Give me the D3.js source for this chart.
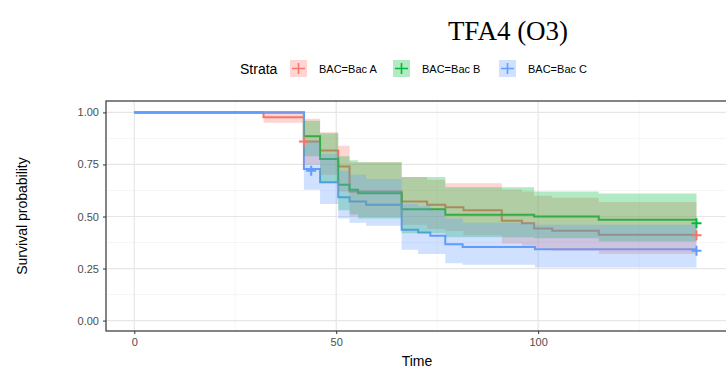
<!DOCTYPE html>
<html>
<head>
<meta charset="utf-8">
<script src="https://cdn.jsdelivr.net/npm/d3@7"></script>
<style>
  body { margin: 0; background: #fff; }
  text { font-family: "Liberation Sans", Arial, sans-serif; }
</style>
</head>
<body>
<svg id="chart" width="726" height="369"></svg>
<script>
// Kaplan-Meier steps
const strata = ["BAC=Bac A", "BAC=Bac B", "BAC=Bac C"];
const colors = ["#F8766D", "#00BA38", "#619CFF"];
const endTime = 139.2;

const timesA = [0, 32, 42, 46, 50.5, 53.3, 66.2, 72.5, 77, 81.5, 91, 96, 99, 103.5, 115];
const survA  = [1, 0.977, 0.86, 0.817, 0.74, 0.62, 0.572, 0.556, 0.545, 0.53, 0.48, 0.468, 0.442, 0.431, 0.412];
const lowA   = [1, 0.95, 0.75, 0.70, 0.62, 0.50, 0.46, 0.44, 0.43, 0.41, 0.37, 0.36, 0.345, 0.335, 0.32];
const upA    = [1, 1.0, 0.97, 0.905, 0.84, 0.76, 0.69, 0.676, 0.66, 0.66, 0.63, 0.62, 0.60, 0.59, 0.57];

const timesB = [0, 42, 46, 50.5, 53.3, 55.4, 66.2, 77, 99, 115];
const survB  = [1, 0.885, 0.776, 0.652, 0.628, 0.612, 0.535, 0.508, 0.50, 0.484];
const lowB   = [1, 0.79, 0.66, 0.53, 0.51, 0.49, 0.42, 0.40, 0.395, 0.38];
const upB    = [1, 0.96, 0.90, 0.79, 0.77, 0.76, 0.69, 0.64, 0.62, 0.61];

const timesC = [0, 42, 46, 50.5, 53.3, 57.4, 66.2, 70.3, 73.3, 77, 81.3, 99.2];
const survC  = [1, 0.728, 0.664, 0.592, 0.572, 0.556, 0.436, 0.423, 0.407, 0.367, 0.353, 0.343];
const lowC   = [1, 0.628, 0.56, 0.49, 0.47, 0.455, 0.34, 0.32, 0.32, 0.276, 0.268, 0.255];
const upC    = [1, 0.86, 0.80, 0.72, 0.70, 0.68, 0.56, 0.55, 0.53, 0.49, 0.47, 0.46];

// censor marks [time, survival]
const censorA = [[42, 0.86], [139.2, 0.41]];
const censorB = [[139.2, 0.467]];
const censorC = [[43.8, 0.72], [139.2, 0.335]];

const xTicks = [0, 50, 100];
const yTicks = [0, 0.25, 0.5, 0.75, 1];

const svg = d3.select("#chart");
const panel = { left: 106, right: 728, top: 101, bottom: 331 };

const x = d3.scaleLinear().domain([-7, 147]).range([panel.left, panel.right]);
const y = d3.scaleLinear().domain([-0.05, 1.05]).range([panel.bottom, panel.top + 1]);

function buildSeries(times, surv, low, up) {
  const pts = times.map((t, i) => ({ t: t, s: surv[i], lo: low[i], up: up[i] }));
  const last = pts[pts.length - 1];
  pts.push({ t: endTime, s: last.s, lo: last.lo, up: last.up });
  return pts;
}

const series = [
  { pts: buildSeries(timesA, survA, lowA, upA), cens: censorA },
  { pts: buildSeries(timesB, survB, lowB, upB), cens: censorB },
  { pts: buildSeries(timesC, survC, lowC, upC), cens: censorC }
];

// grid
const grid = svg.append("g");
const minorX = [25, 75, 125];
const minorY = [0.125, 0.375, 0.625, 0.875];
minorX.forEach(v => grid.append("line")
  .attr("x1", x(v)).attr("x2", x(v)).attr("y1", panel.top).attr("y2", panel.bottom)
  .attr("stroke", "#f2f2f2").attr("stroke-width", 0.8));
minorY.forEach(v => grid.append("line")
  .attr("x1", panel.left).attr("x2", panel.right).attr("y1", y(v)).attr("y2", y(v))
  .attr("stroke", "#f2f2f2").attr("stroke-width", 0.8));
xTicks.forEach(v => grid.append("line")
  .attr("x1", x(v)).attr("x2", x(v)).attr("y1", panel.top).attr("y2", panel.bottom)
  .attr("stroke", "#e6e6e6").attr("stroke-width", 1.2));
yTicks.forEach(v => grid.append("line")
  .attr("x1", panel.left).attr("x2", panel.right).attr("y1", y(v)).attr("y2", y(v))
  .attr("stroke", "#e6e6e6").attr("stroke-width", 1.2));

// survival steps (drawn first, ribbons go over them like in survminer)
const line = d3.line()
  .curve(d3.curveStepAfter)
  .x(d => x(d.t))
  .y(d => y(d.s));

series.forEach((s, i) => {
  svg.append("path")
    .datum(s.pts)
    .attr("d", line)
    .attr("fill", "none")
    .attr("stroke", colors[i])
    .attr("stroke-width", 2);
});

// confidence ribbons
const area = d3.area()
  .curve(d3.curveStepAfter)
  .x(d => x(d.t))
  .y0(d => y(d.lo))
  .y1(d => y(d.up));

series.forEach((s, i) => {
  svg.append("path")
    .datum(s.pts)
    .attr("d", area)
    .attr("fill", colors[i])
    .attr("fill-opacity", 0.3);
});

// censor marks
series.forEach((s, i) => {
  s.cens.forEach(c => {
    const cx = x(c[0]), cy = y(c[1]);
    svg.append("path")
      .attr("d", `M${cx - 5},${cy}H${cx + 5}M${cx},${cy - 5}V${cy + 5}`)
      .attr("stroke", colors[i])
      .attr("stroke-width", 2);
  });
});

// panel border
svg.append("rect")
  .attr("x", panel.left).attr("y", panel.top)
  .attr("width", panel.right - panel.left).attr("height", panel.bottom - panel.top)
  .attr("fill", "none").attr("stroke", "#333").attr("stroke-width", 1.2);

// axes
const xAxis = svg.append("g")
  .attr("transform", `translate(0,${panel.bottom})`)
  .call(d3.axisBottom(x).tickValues(xTicks).tickSize(3).tickPadding(4).tickFormat(d3.format("d")));
const yAxis = svg.append("g")
  .attr("transform", `translate(${panel.left},0)`)
  .call(d3.axisLeft(y).tickValues(yTicks).tickSize(3).tickPadding(4).tickFormat(d3.format(".2f")));
[xAxis, yAxis].forEach(a => {
  a.select(".domain").remove();
  a.selectAll(".tick line").attr("stroke", "#333");
  a.selectAll(".tick text").attr("fill", "#4d4d4d").style("font-size", "11px")
    .style("font-family", "'Liberation Sans', Arial, sans-serif");
});

svg.append("text")
  .attr("x", (panel.left + panel.right) / 2)
  .attr("y", 366)
  .attr("text-anchor", "middle")
  .style("font-size", "14px")
  .text("Time");

svg.append("text")
  .attr("transform", `translate(27,${(panel.top + panel.bottom) / 2}) rotate(-90)`)
  .attr("text-anchor", "middle")
  .style("font-size", "14px")
  .text("Survival probability");

// title
svg.append("text")
  .attr("x", 508)
  .attr("y", 40)
  .attr("text-anchor", "middle")
  .style("font-family", "'Liberation Serif', 'Times New Roman', serif")
  .style("font-size", "27px")
  .text("TFA4 (O3)");

// legend
const legend = svg.append("g");
legend.append("text")
  .attr("x", 240).attr("y", 74)
  .style("font-size", "14px")
  .text("Strata");

const keyX = [290, 393, 499];
strata.forEach((name, i) => {
  const kx = keyX[i], ky = 60;
  legend.append("rect")
    .attr("x", kx).attr("y", ky).attr("width", 17).attr("height", 17)
    .attr("fill", colors[i]).attr("fill-opacity", 0.3);
  legend.append("path")
    .attr("d", `M${kx + 2},${ky + 8.5}H${kx + 15}M${kx + 8.5},${ky + 3}V${ky + 14}`)
    .attr("stroke", colors[i]).attr("stroke-width", 1.6);
  legend.append("text")
    .attr("x", kx + 29).attr("y", ky + 13)
    .style("font-size", "11px")
    .text(name);
});
</script>
</body>
</html>
